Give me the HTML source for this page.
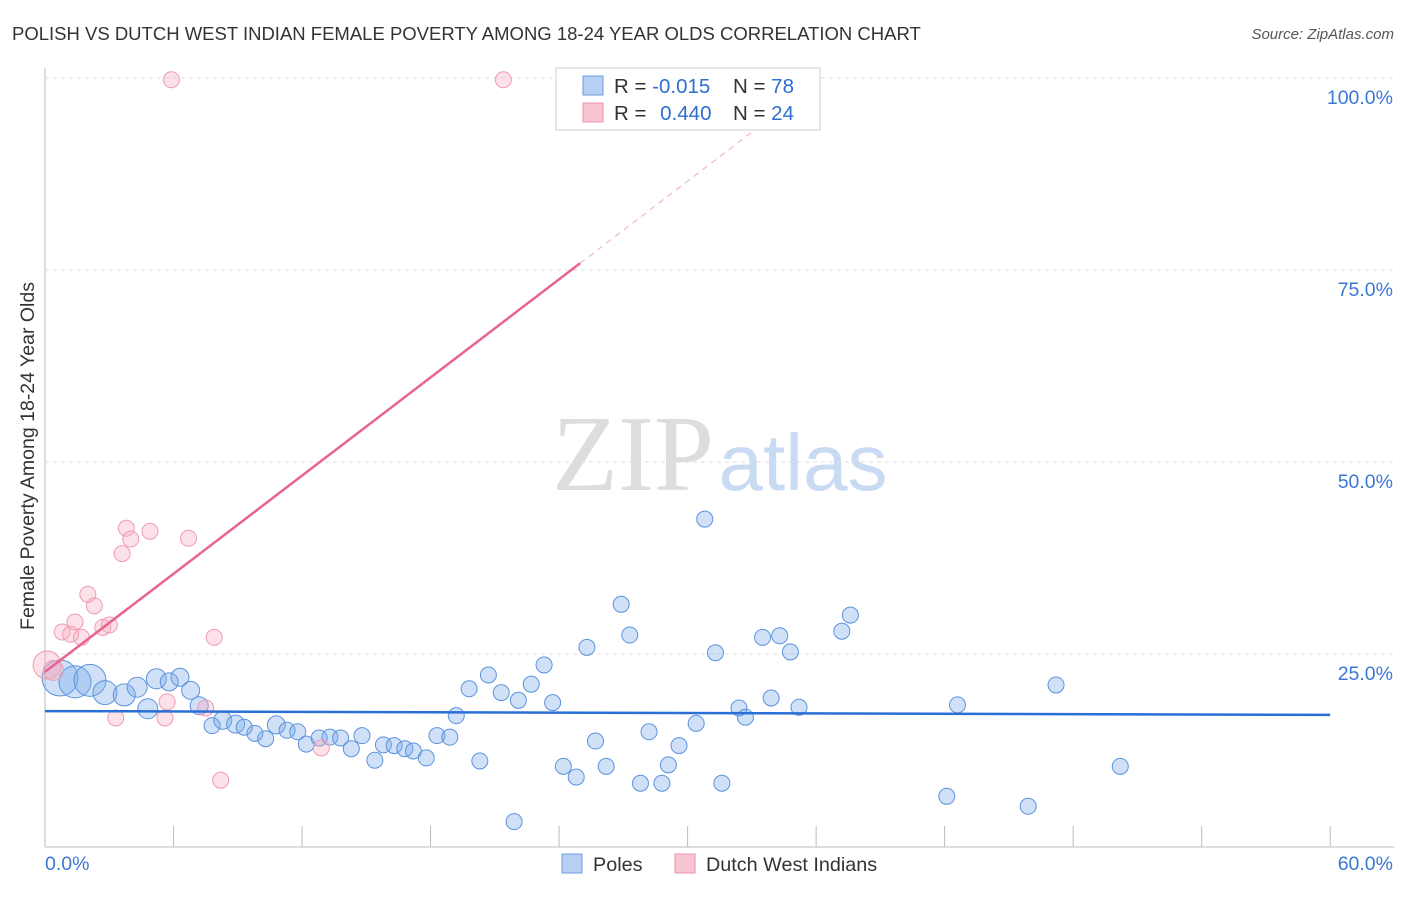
<!DOCTYPE html>
<html><head><meta charset="utf-8"><style>
body{margin:0;background:#fff;font-family:"Liberation Sans",sans-serif;}
svg text{font-family:"Liberation Sans",sans-serif;}
</style></head><body>
<svg id="c" width="1406" height="892">
<text x="12" y="40" font-size="18.5" fill="#333">POLISH VS DUTCH WEST INDIAN FEMALE POVERTY AMONG 18-24 YEAR OLDS CORRELATION CHART</text>
<text x="1394" y="39" font-size="15" fill="#555" font-style="italic" text-anchor="end">Source: ZipAtlas.com</text>
<text transform="translate(34,456) rotate(-90)" font-size="19.5" fill="#333" text-anchor="middle">Female Poverty Among 18-24 Year Olds</text>
<g>
<text x="633" y="490" font-size="108" fill="#ddd" text-anchor="middle" style="font-family:'Liberation Serif',serif">ZIP</text>
<text x="803" y="490" font-size="80" fill="#c9dbf3" text-anchor="middle">atlas</text>
</g>
<g id="grid"></g><g id="pts"></g><g id="lines"></g>
<g>
<rect x="556" y="68" width="264" height="62" fill="#fff" stroke="#ccc"/>
<rect x="583" y="76" width="20" height="19" fill="#b7d0f3" stroke="#6b9de0"/>
<rect x="583" y="103" width="20" height="19" fill="#f8c5d3" stroke="#ec93ad"/>
<text x="614" y="93" font-size="20.5" fill="#333">R = <tspan fill="#2d6fd0">-0.015</tspan></text>
<text x="733" y="93" font-size="20.5" fill="#333">N = <tspan fill="#2d6fd0">78</tspan></text>
<text x="614" y="120" font-size="20.5" fill="#333">R = <tspan fill="#2d6fd0" dx="8">0.440</tspan></text>
<text x="733" y="120" font-size="20.5" fill="#333">N = <tspan fill="#2d6fd0">24</tspan></text>
</g>
<g>
<rect x="562" y="854" width="20" height="19" fill="#b7d0f3" stroke="#6b9de0"/>
<text x="593" y="871" font-size="19.8" fill="#333">Poles</text>
<rect x="675" y="854" width="20" height="19" fill="#f8c5d3" stroke="#ec93ad"/>
<text x="706" y="871" font-size="19.8" fill="#333">Dutch West Indians</text>
</g>
</svg>
<script>
const blueX=[0.7,1.4,2.1,2.8,3.7,4.3,4.8,5.2,5.8,6.3,6.8,7.2,7.8,8.3,8.9,9.3,9.8,10.3,10.8,11.3,11.8,12.2,12.8,13.3,13.8,14.3,14.8,15.4,15.8,16.3,16.8,17.2,17.8,18.3,18.9,19.2,19.8,20.3,20.7,21.3,21.9,22.1,22.7,23.3,23.7,24.2,24.8,25.3,25.7,26.2,26.9,27.3,27.8,28.2,28.8,29.1,29.6,30.4,30.8,31.3,31.6,32.4,32.7,33.5,33.9,34.3,34.8,35.2,37.2,37.6,42.1,42.6,45.9,47.2,50.2];
const blueY=[22.0,21.5,21.7,20.1,19.8,20.8,18.0,21.9,21.5,22.1,20.4,18.4,15.8,16.5,16.0,15.6,14.8,14.1,15.9,15.2,15.0,13.4,14.2,14.3,14.2,12.8,14.5,11.3,13.3,13.2,12.8,12.5,11.6,14.5,14.3,17.1,20.6,11.2,22.4,20.1,3.3,19.1,21.2,23.7,18.8,10.5,9.1,26.0,13.8,10.5,31.6,27.6,8.3,15.0,8.3,10.7,13.2,16.1,42.7,25.3,8.3,18.1,16.9,27.3,19.4,27.5,25.4,18.2,28.1,30.2,6.6,18.5,5.3,21.1,10.5];
const blueSize=[18,16,16,12,11,10,10,10,9,9,9,9,8,9,9,8,8,8,9,8,8,8,8,8,8,8,8,8,8,8,8,8,8,8,8,8,8,8,8,8,8,8,8,8,8,8,8,8,8,8,8,8,8,8,8,8,8,8,8,8,8,8,8,8,8,8,8,8,8,8,8,8,8,8,8];
const pinkX=[0.1,0.4,0.8,1.2,1.4,1.7,2.0,2.3,2.7,3.0,3.3,3.6,3.8,4.0,4.9,5.6,5.7,5.9,6.7,7.5,7.9,8.2,12.9,21.4];
const pinkY=[23.7,23.0,28.0,27.7,29.3,27.3,32.9,31.4,28.6,28.9,16.8,38.2,41.5,40.1,41.1,16.8,18.9,99.9,40.2,18.1,27.3,8.7,12.9,99.9];
const pinkSize=[14,10,8,8,8,8,8,8,8,8,8,8,8,8,8,8,8,8,8,8,8,8,8,8];
const yTicks=[25,50,75,100];
const xTicks=[0,6,12,18,24,30,36,42,48,54,60];
const blueTrend=[17.7,17.2];
const pinkTrend=[22.8,2.13];
const NS='http://www.w3.org/2000/svg';
const sx=v=>45+v*21.42, sy=v=>847-v*7.68;
function mk(t,a,p){const e=document.createElementNS(NS,t);for(const k in a)e.setAttribute(k,a[k]);p.appendChild(e);return e;}
const grid=document.getElementById('grid');
let ax=mk('line',{x1:45,y1:68,x2:45,y2:847,stroke:'#bbb'},grid);

let bx=mk('line',{x1:45,y1:847,x2:1394,y2:847,stroke:'#bbb'},grid);

yTicks.forEach(t=>{
 const g=mk('line',{x1:45,x2:1394,y1:sy(t)-1,y2:sy(t)-1,stroke:'#ddd','stroke-dasharray':'4,4'},grid);
 
 const l=mk('text',{x:1393,y:sy(t)+25,'font-size':19.5,fill:'#3a78d6','text-anchor':'end'},grid);
 l.textContent=t.toFixed(1)+'%';
 
});
xTicks.forEach(t=>{
 const k=mk('line',{x1:sx(t),x2:sx(t),y1:826,y2:847,stroke:'#bbb'},grid);
 
});
[[0,'start',45],[60,'end',1393]].forEach(([t,a,x])=>{
 const l=mk('text',{x:x,y:870,'font-size':19.5,fill:'#3a78d6','text-anchor':a},grid);
 l.textContent=t.toFixed(1)+'%';
 
});
const pts=document.getElementById('pts');
blueX.forEach((x,i)=>{
 const c=mk('circle',{cx:sx(x),cy:sy(blueY[i]),r:blueSize[i],fill:'rgba(120,168,232,0.35)',stroke:'#5b93dd','stroke-width':1},pts);
 
});
pinkX.forEach((x,i)=>{
 const c=mk('circle',{cx:sx(x),cy:sy(pinkY[i]),r:pinkSize[i],fill:'rgba(245,170,190,0.35)',stroke:'#ee9bb3','stroke-width':1},pts);
 
});
const lines=document.getElementById('lines');
const bl=mk('line',{x1:sx(0),y1:sy(blueTrend[0]),x2:sx(60),y2:sy(blueTrend[1]),stroke:'#2a6fd6','stroke-width':2.5},lines);

const pe=24.98, pf=36.2;
const pl=mk('line',{x1:sx(0),y1:sy(pinkTrend[0]),x2:sx(pe),y2:sy(pinkTrend[0]+pinkTrend[1]*pe),stroke:'#e8638f','stroke-width':2.5},lines);

const pd=mk('line',{x1:sx(pe),y1:sy(pinkTrend[0]+pinkTrend[1]*pe),x2:sx(pf),y2:sy(pinkTrend[0]+pinkTrend[1]*pf),stroke:'#eeaabf','stroke-width':1,'stroke-dasharray':'6,5'},lines);

</script>
</body></html>
